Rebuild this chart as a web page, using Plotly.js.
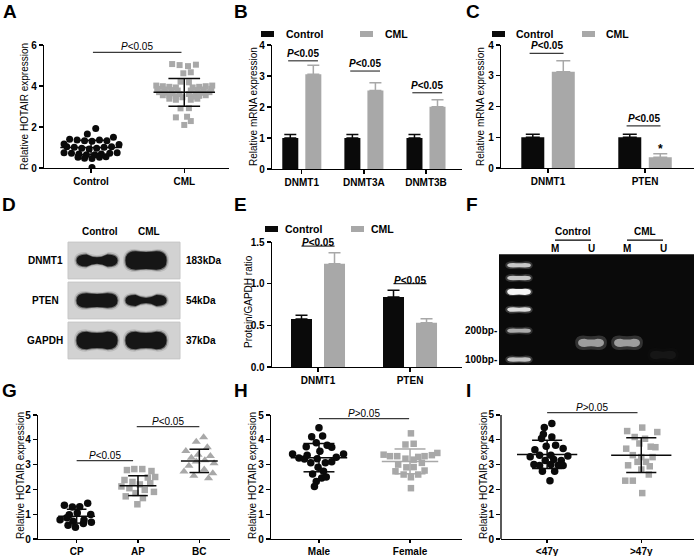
<!DOCTYPE html>
<html>
<head>
<meta charset="utf-8">
<script src="https://cdn.plot.ly/plotly-3.0.1.min.js"></script>
<style>
  html, body { margin: 0; padding: 0; background: #fff; }
  #fig { width: 696px; height: 556px; }
</style>
</head>
<body>
<div id="fig"></div>
<script>
// ---------- values ----------

// A: HOTAIR in Control vs CML
const aGroups = ['Control', 'CML'];
const aCtrlY = [1.93, 1.66, 1.50, 1.40, 1.37, 1.33, 1.30, 1.37, 1.33, 1.17, 1.15, 1.04, 1.01, 0.96, 0.93, 0.96,
  1.01, 1.04, 0.75, 0.72, 0.68, 0.65, 0.65, 0.68, 0.72, 0.75, 0.52, 0.47, 0.46, 0.52, 0.55, 0.03];
const aCtrlJit = [0.05, -0.04, 0.24, -0.23, -0.15, -0.07, 0.01, 0.09, 0.17, -0.29, 0.30, -0.26, -0.18, -0.10, -0.02, 0.06,
  0.14, 0.22, -0.29, -0.21, -0.13, -0.05, 0.04, 0.11, 0.20, 0.28, -0.14, -0.07, 0.01, 0.09, 0.16, 0.01];
const aCmlY = [5.07, 5.02, 4.97, 5.04, 4.62, 4.67, 4.21, 4.18,
  4.02, 3.99, 3.96, 3.93, 3.93, 3.96, 3.99, 4.02,
  3.86, 3.83, 3.80, 3.78, 3.78, 3.80, 3.83, 3.86,
  3.70, 3.67, 3.64, 3.61, 3.61, 3.64, 3.67, 3.70,
  3.55, 3.52, 3.48, 3.45, 3.48, 3.52, 3.55,
  3.38, 3.33, 3.33, 3.38,
  2.91, 2.92, 2.47, 2.50, 2.29, 2.10];
const aCmlJit = [-0.13, -0.05, 0.04, 0.125, -0.01, 0.07, -0.04, 0.05,
  -0.30, -0.23, -0.16, -0.09, 0.09, 0.16, 0.23, 0.30,
  -0.29, -0.21, -0.14, -0.07, 0.07, 0.14, 0.21, 0.29,
  -0.27, -0.20, -0.125, -0.05, 0.05, 0.125, 0.20, 0.27,
  -0.23, -0.16, -0.09, -0.02, 0.09, 0.16, 0.23,
  -0.16, -0.09, 0.07, 0.14,
  -0.04, 0.05, -0.09, 0.03, 0.07, 0.0];
const aMean = [1.0, 3.69];
const aSd = [0.35, 0.68];

// B: DNMT mRNA
const bGenes = ['DNMT1', 'DNMT3A', 'DNMT3B'];
const bCtrl = [1.0, 1.0, 1.0];
const bCtrlErr = [0.11, 0.11, 0.11];
const bCml = [3.06, 2.53, 2.01];
const bCmlErr = [0.29, 0.25, 0.22];
const bSigY = [3.49, 3.16, 2.46];

// C: DNMT1 / PTEN mRNA
const cGenes = ['DNMT1', 'PTEN'];
const cCtrl = [1.0, 1.0];
const cCtrlErr = [0.1, 0.1];
const cCml = [3.13, 0.35];
const cCmlErr = [0.36, 0.11];
const cSigY = [3.73, 1.37];

// D: western blot
const dLanes = ['Control', 'CML'];
const dProteins = ['DNMT1', 'PTEN', 'GAPDH'];
const dSizes = ['183kDa', '54kDa', '37kDa'];
const dBandEnd = [[0.30, 0.46], [0.36, 0.27], [0.44, 0.44]];   // band thickness at the ends
const dBandMid = [[0.16, 0.42], [0.32, 0.13], [0.38, 0.38]];   // band thickness at the middle

// E: protein / GAPDH
const eGenes = ['DNMT1', 'PTEN'];
const eCtrl = [0.575, 0.84];
const eCtrlErr = [0.045, 0.08];
const eCml = [1.24, 0.53];
const eCmlErr = [0.13, 0.05];
const eSigY = [1.45, 1.0];

// F: methylation-specific PCR gel
const fLanes = ['M', 'U', 'M', 'U'];
const fGroups = ['Control', 'CML'];
const fLadderRf = [0.10, 0.215, 0.34, 0.50, 0.69, 0.95];
const fLadderI = [0.72, 0.72, 0.95, 0.82, 0.6, 0.7];
const fMarkers = ['200bp-', '100bp-'];
const fMarkerRf = [0.69, 0.95];
const fSampleRf = [0.80, 0.80, 0.80, 0.91];
const fSampleI = [0.0, 0.8, 0.8, 0.06];

// G: HOTAIR by phase
const gGroups = ['CP', 'AP', 'BC'];
const gCpY = [1.36, 1.29, 1.30, 1.44, 1.05, 0.98, 0.78, 0.86, 0.77, 0.99, 0.68, 0.55, 0.47, 0.62, 0.72];
const gCpJit = [-0.2, -0.07, 0.05, 0.18, 0.01, -0.12, -0.27, -0.16, 0.12, 0.23, 0.24, -0.14, -0.02, 0.11, -0.06];
const gApY = [2.78, 2.82, 2.82, 2.74, 2.48, 2.50, 2.38, 2.30, 2.20, 2.25, 2.12, 2.05, 1.98, 1.90, 1.85, 1.72, 1.65, 1.40];
const gApJit = [-0.18, -0.06, 0.07, 0.22, 0.16, 0.28, -0.22, -0.09, 0.03, 0.20, -0.27, -0.14, 0.11, 0.26, -0.04, -0.20, 0.08, -0.01];
const gBcY = [4.10, 3.92, 3.70, 3.55, 3.40, 3.35, 3.28, 3.18, 3.12, 3.05, 2.95, 2.80, 2.72, 2.65, 2.55, 2.45];
const gBcJit = [0.07, -0.05, 0.13, -0.22, -0.02, 0.18, -0.13, 0.09, -0.05, 0.24, -0.17, 0.08, -0.25, 0.22, -0.09, 0.15];
const gMean = [0.92, 2.15, 3.15];
const gSd = [0.28, 0.40, 0.47];
const gSig = [[0, 0.92, 3.16], [0.98, 2.0, 4.53]];

// H: HOTAIR by gender
const hGroups = ['Male', 'Female'];
const hMaleY = [4.49, 4.12, 4.15, 3.72, 3.88, 3.78, 3.70, 3.43, 3.27, 3.23, 3.07, 3.24, 3.07, 3.11, 3.30, 3.43,
  2.89, 2.62, 2.73, 2.46, 2.50, 2.32, 2.12, 3.38, 3.54];
const hMaleJit = [0.0, -0.08, 0.04, -0.14, -0.03, 0.09, 0.14, -0.29, -0.22, -0.16, -0.09, -0.02, 0.07, 0.14, 0.19, 0.27,
  -0.01, -0.07, 0.05, 0.03, 0.08, -0.03, -0.05, -0.13, 0.01];
const hFemY = [4.26, 3.81, 3.84, 3.40, 3.34, 3.34, 3.24, 3.20, 3.31, 3.34, 3.38, 3.47, 3.00, 2.89, 2.90, 3.07,
  2.73, 2.60, 2.49, 2.60, 2.76, 2.05];
const hFemJit = [0.01, -0.05, 0.04, -0.29, -0.22, -0.14, -0.05, 0.04, 0.09, 0.16, 0.24, 0.30, -0.13, -0.04, 0.04, 0.13,
  -0.16, -0.07, 0.01, 0.09, 0.16, 0.01];
const hMean = [3.28, 3.13];
const hSd = [0.57, 0.50];

// I: HOTAIR by age
const iGroups = ['<47y', '>47y'];
const iYoungY = [4.65, 4.49, 4.22, 4.11, 4.05, 3.74, 3.78, 3.60, 3.65, 3.38, 3.38, 3.31, 3.34, 3.16, 3.20, 3.16,
  3.00, 2.96, 2.97, 2.96, 2.73, 2.73, 2.35, 3.00];
const iYoungJit = [0.05, -0.03, -0.04, 0.05, -0.06, -0.01, 0.09, -0.13, 0.17, -0.08, 0.04, -0.18, 0.22, -0.02, 0.07, 0.15,
  -0.14, -0.08, 0.12, 0.17, -0.05, 0.08, 0.03, 0.04];
const iOldY = [4.35, 4.49, 4.31, 4.11, 4.04, 3.64, 3.85, 3.72, 3.70, 3.38, 3.30, 3.30, 3.11, 3.11, 2.97, 2.93,
  2.80, 2.60, 2.35, 2.35, 1.85];
const iOldJit = [-0.15, 0.01, 0.17, -0.07, 0.04, -0.16, -0.02, 0.10, 0.15, -0.09, 0.0, 0.12, -0.04, 0.05, -0.14, 0.09,
  0.0, 0.08, -0.17, -0.09, 0.01];
const iMean = [3.41, 3.38];
const iSd = [0.57, 0.70];

// ---------- styling helpers ----------
const FONT = 'Liberation Sans, Arial, Helvetica, sans-serif';
const W = 696, H = 556;
const BLACK = '#0a0a0a';
const GRAY = '#a8a8a8';

const layout = {
  width: W, height: H,
  margin: { l: 0, r: 0, t: 0, b: 0 },
  paper_bgcolor: '#ffffff',
  plot_bgcolor: 'rgba(0,0,0,0)',
  showlegend: false,
  font: { family: FONT, color: '#000', size: 10 },
  shapes: [],
  annotations: []
};
const data = [];

function axisBase() {
  return {
    showline: true, linecolor: '#000', linewidth: 1.3,
    ticks: 'outside', ticklen: 4, tickwidth: 1.3, tickcolor: '#000',
    showgrid: false, zeroline: false, fixedrange: true,
    tickfont: { family: FONT, size: 10, color: '#000', weight: 'bold' }
  };
}

// box = [left, right, top, bottom] in pixels
function addAxes(n, box, xr, yr, xExtra, yExtra) {
  const xk = 'xaxis' + n, yk = 'yaxis' + n;
  layout[xk] = Object.assign(axisBase(), {
    domain: [box[0] / W, box[1] / W], range: xr, anchor: 'y' + n
  }, xExtra || {});
  layout[yk] = Object.assign(axisBase(), {
    domain: [1 - box[3] / H, 1 - box[2] / H], range: yr, anchor: 'x' + n
  }, yExtra || {});
  return { x: 'x' + n, y: 'y' + n };
}

function catTicks(labels, extra) {
  return Object.assign({ tickmode: 'array', tickvals: labels.map((_, i) => i), ticktext: labels }, extra || {});
}

function yTitle(text, xpx, ypx) {
  layout.annotations.push({
    text: text, xref: 'paper', yref: 'paper', x: xpx / W, y: 1 - ypx / H,
    textangle: -90, showarrow: false, xanchor: 'center', yanchor: 'middle',
    font: { family: FONT, size: 10, color: '#000' }
  });
}

function letter(t, xpx, ypx) {
  layout.annotations.push({
    text: '<b>' + t + '</b>', xref: 'paper', yref: 'paper', x: xpx / W, y: 1 - ypx / H,
    xanchor: 'left', yanchor: 'middle', showarrow: false,
    font: { family: FONT, size: 19, color: '#000' }
  });
}

function sig(ax, x0, x1, y, label, bold, shift) {
  layout.shapes.push({
    type: 'line', xref: ax.x, yref: ax.y, x0: x0, x1: x1, y0: y, y1: y,
    line: { color: '#3a3a3a', width: 1.2 }
  });
  layout.annotations.push({
    text: (bold ? '<b><i>P</i>' + label + '</b>' : '<i>P</i>' + label),
    xref: ax.x, yref: ax.y, x: (x0 + x1) / 2, y: y, yanchor: 'bottom', xanchor: 'center',
    showarrow: false, yshift: shift, font: { family: FONT, size: 10, color: '#000' }
  });
}

function legendBox(xpx, ypx, cmlX, gap) {
  const items = [['Control', BLACK, xpx], ['CML', GRAY, cmlX]];
  items.forEach(function (it) {
    layout.shapes.push({
      type: 'rect', xref: 'paper', yref: 'paper',
      x0: it[2] / W, x1: (it[2] + 13) / W, y0: 1 - (ypx + 3) / H, y1: 1 - (ypx - 3) / H,
      fillcolor: it[1], line: { width: 0 }
    });
    layout.annotations.push({
      text: '<b>' + it[0] + '</b>', xref: 'paper', yref: 'paper',
      x: (it[2] + gap) / W, y: 1 - ypx / H, xanchor: 'left', yanchor: 'middle',
      showarrow: false, font: { family: FONT, size: 10.5, color: '#000' }
    });
  });
}

function dots(ax, idx, ys, jit, symbol, color, size) {
  data.push({
    type: 'scatter', mode: 'markers', xaxis: ax.x, yaxis: ax.y,
    x: ys.map((_, i) => idx + jit[i]), y: ys,
    marker: { symbol: symbol, size: size, color: color, line: { width: 0 } },
    hoverinfo: 'skip'
  });
}

function meanSd(ax, idx, m, s, color, mw, sw) {
  data.push({
    type: 'scatter', mode: 'lines', xaxis: ax.x, yaxis: ax.y,
    x: [idx - mw, idx + mw, null, idx - sw, idx + sw, null, idx - sw, idx + sw, null, idx, idx],
    y: [m, m, null, m + s, m + s, null, m - s, m - s, null, m - s, m + s],
    line: { color: color, width: 1.5 }, hoverinfo: 'skip'
  });
}

function bars(ax, cats, vals, errs, color, off, wid, cap) {
  data.push({
    type: 'bar', xaxis: ax.x, yaxis: ax.y,
    x: cats.map((_, i) => i), y: vals, offset: off, width: wid,
    marker: { color: color, line: { width: 0 } },
    error_y: { type: 'data', symmetric: false, array: errs, arrayminus: errs.map(() => 0),
      color: color, thickness: 1.5, width: cap },
    hoverinfo: 'skip'
  });
}

// band path: blob with rounded ends and a waist in the middle
function bandPath(c, r, hw, tEnd, tMid) {
  const x0 = c - hw, x1 = c + hw, xl = x0 + hw * 0.5, xr = x1 - hw * 0.5;
  const te = r - tEnd / 2, be = r + tEnd / 2;
  const qt = 2 * (r - tMid / 2) - te, qb = 2 * (r + tMid / 2) - be;
  return 'M' + x0 + ',' + r +
    ' Q' + x0 + ',' + te + ' ' + xl + ',' + te +
    ' Q' + c + ',' + qt + ' ' + xr + ',' + te +
    ' Q' + x1 + ',' + te + ' ' + x1 + ',' + r +
    ' Q' + x1 + ',' + be + ' ' + xr + ',' + be +
    ' Q' + c + ',' + qb + ' ' + xl + ',' + be +
    ' Q' + x0 + ',' + be + ' ' + x0 + ',' + r + ' Z';
}

// ---------- A ----------
const axA = addAxes('', [44, 229, 45, 168], [-0.505, 1.48], [0, 6],
  catTicks(aGroups), { tickmode: 'array', tickvals: [0, 2, 4, 6] });
axA.x = 'x'; axA.y = 'y';
dots(axA, 0, aCtrlY, aCtrlJit, 'circle', BLACK, 7);
dots(axA, 1, aCmlY, aCmlJit, 'square', GRAY, 6);
meanSd(axA, 0, aMean[0], aSd[0], BLACK, 0.33, 0.17);
meanSd(axA, 1, aMean[1], aSd[1], BLACK, 0.33, 0.17);
sig(axA, 0.02, 0.97, 5.64, '&lt;0.05', false, -2);
yTitle('Relative HOTAIR expression', 24, 107);
letter('A', 1, 12);

// ---------- B ----------
const axB = addAxes(2, [272, 462, 45, 169], [-0.48, 2.58], [0, 4],
  catTicks(bGenes), { dtick: 1, tick0: 0 });
const bW = 16 / 62, bG = 7 / 62;
bars(axB, bGenes, bCtrl, bCtrlErr, BLACK, -bG / 2 - bW, bW, 6);
bars(axB, bGenes, bCml, bCmlErr, GRAY, bG / 2, bW, 6);
bSigY.forEach((y, i) => sig(axB, i - 0.22, i + 0.26, y, '&lt;0.05', true, 0));
legendBox(261, 34, 360, 23);
yTitle('Relative mRNA expression', 253, 107);
letter('B', 232, 12);

// ---------- C ----------
const axC = addAxes(3, [501, 694, 45, 168], [-0.485, 1.505], [0, 4],
  catTicks(cGenes), { dtick: 1, tick0: 0 });
const cW = 23 / 97, cG = 7.5 / 97;
bars(axC, cGenes, cCtrl, cCtrlErr, BLACK, -cG / 2 - cW, cW, 7);
bars(axC, cGenes, cCml, cCmlErr, GRAY, cG / 2, cW, 7);
cSigY.forEach((y, i) => sig(axC, i - 0.19, i + 0.16, y, '&lt;0.05', true, 0));
layout.annotations.push({
  text: '<b>*</b>', xref: 'x3', yref: 'y3', x: 1 + cG / 2 + cW / 2, y: cCml[1] + cCmlErr[1],
  yanchor: 'bottom', showarrow: false, yshift: -4, font: { family: FONT, size: 12, color: '#000' }
});
legendBox(492, 34, 582, 22);
yTitle('Relative mRNA expression', 480, 107);
letter('C', 464, 12);

// ---------- D ----------
// lanes are 49 px apart, rows 40 px apart; axis spans the whole panel so labels stay in range
const axD = addAxes(4, [0, 232, 222, 370], [-1.98, 2.755], [2.7375, -0.9625],
  { visible: false }, { visible: false });
dProteins.forEach(function (p, r) {
  layout.shapes.push({
    type: 'rect', xref: 'x4', yref: 'y4', x0: -0.592, x1: 1.694, y0: r - 0.46, y1: r + 0.46,
    fillcolor: '#d2d2d2', line: { color: '#c6c6c6', width: 1 }, layer: 'below'
  });
  dLanes.forEach(function (l, c) {
    layout.shapes.push({
      type: 'path', xref: 'x4', yref: 'y4',
      path: bandPath(c, r, 0.47, dBandEnd[r][c] + 0.12, dBandMid[r][c] + 0.1),
      fillcolor: '#6a6a6a', opacity: 0.22, line: { width: 0 }
    });
    layout.shapes.push({
      type: 'path', xref: 'x4', yref: 'y4',
      path: bandPath(c, r, 0.44, dBandEnd[r][c] + 0.05, dBandMid[r][c] + 0.04),
      fillcolor: '#2a2a2a', opacity: 0.5, line: { width: 0 }
    });
    layout.shapes.push({
      type: 'path', xref: 'x4', yref: 'y4',
      path: bandPath(c, r, 0.42, dBandEnd[r][c], dBandMid[r][c]),
      fillcolor: '#161616', line: { width: 0 }
    });
  });
  layout.annotations.push({
    text: '<b>' + p + '</b>', xref: 'x4', yref: 'y4', x: -1.06, y: r,
    xanchor: 'center', yanchor: 'middle', showarrow: false,
    font: { family: FONT, size: 10, color: '#000' }
  });
  layout.annotations.push({
    text: '<b>' + dSizes[r] + '</b>', xref: 'x4', yref: 'y4', x: 1.78, y: r,
    xanchor: 'left', yanchor: 'middle', showarrow: false,
    font: { family: FONT, size: 10, color: '#000' }
  });
});
dLanes.forEach(function (l, c) {
  layout.annotations.push({
    text: '<b>' + l + '</b>', xref: 'x4', yref: 'y4', x: c + 0.06, y: -0.72,
    xanchor: 'center', yanchor: 'middle', showarrow: false,
    font: { family: FONT, size: 10, color: '#000' }
  });
});
letter('D', 0, 205);

// ---------- E ----------
const axE = addAxes(5, [272, 462, 242, 367], [-0.5, 1.565], [0, 1.5],
  catTicks(eGenes), { dtick: 0.5, tick0: 0, tickformat: '.1f' });
const eW = 21 / 92, eG = 12 / 92;
bars(axE, eGenes, eCtrl, eCtrlErr, BLACK, -eG / 2 - eW, eW, 6);
bars(axE, eGenes, eCml, eCmlErr, GRAY, eG / 2, eW, 6);
eSigY.forEach((y, i) => sig(axE, i - 0.18, i + 0.18, y, '&lt;0.05', true, -4));
legendBox(265, 229, 351, 18);
yTitle('Protein/GAPDH ratio', 248, 302);
letter('E', 232, 205);

// ---------- F ----------
// lanes 36 px apart (ladder = lane 0); y is relative migration, 0 = gel top, 1 = gel bottom
const axF = addAxes(6, [499, 694, 222, 365], [-0.556, 4.86], [1, -0.29],
  { visible: false }, { visible: false });
layout.shapes.push({
  type: 'rect', xref: 'x6 domain', yref: 'y6', x0: 0, x1: 1, y0: 0, y1: 1,
  fillcolor: '#0a0a0a', line: { width: 0 }, layer: 'below'
});
fLadderRf.forEach(function (rf, i) {
  layout.shapes.push({
    type: 'path', xref: 'x6', yref: 'y6', path: bandPath(0, rf, 0.38, 0.07, 0.06),
    fillcolor: '#ffffff', opacity: fLadderI[i] * 0.25, line: { width: 0 }
  });
  layout.shapes.push({
    type: 'path', xref: 'x6', yref: 'y6', path: bandPath(0, rf, 0.33, i === 2 ? 0.055 : 0.04, i === 2 ? 0.05 : 0.035),
    fillcolor: '#ffffff', opacity: fLadderI[i], line: { width: 0 }
  });
});
fSampleRf.forEach(function (rf, i) {
  if (fSampleI[i] <= 0) return;
  layout.shapes.push({
    type: 'path', xref: 'x6', yref: 'y6', path: bandPath(i + 1, rf, 0.44, 0.13, 0.12),
    fillcolor: '#8a8a8a', opacity: fSampleI[i] * 0.4, line: { width: 0 }
  });
  layout.shapes.push({
    type: 'path', xref: 'x6', yref: 'y6', path: bandPath(i + 1, rf, 0.36, 0.075, 0.06),
    fillcolor: '#b8b8b8', opacity: fSampleI[i], line: { width: 0 }
  });
});
fLanes.forEach(function (l, i) {
  layout.annotations.push({
    text: '<b>' + l + '</b>', xref: 'x6', yref: 'y6', x: i + 1, y: -0.054,
    xanchor: 'center', yanchor: 'middle', showarrow: false,
    font: { family: FONT, size: 10, color: '#000' }
  });
});
fGroups.forEach(function (g, i) {
  const x0 = 1 + 2 * i;
  layout.shapes.push({
    type: 'line', xref: 'x6', yref: 'y6', x0: x0, x1: x0 + 1, y0: -0.126, y1: -0.126,
    line: { color: '#000', width: 1.2 }
  });
  layout.annotations.push({
    text: '<b>' + g + '</b>', xref: 'x6', yref: 'y6', x: x0 + 0.5, y: -0.2,
    xanchor: 'center', yanchor: 'middle', showarrow: false,
    font: { family: FONT, size: 10, color: '#000' }
  });
});
fMarkers.forEach(function (m, i) {
  layout.annotations.push({
    text: '<b>' + m + '</b>', xref: 'x6', yref: 'y6', x: -0.556, y: fMarkerRf[i],
    xanchor: 'right', yanchor: 'middle', showarrow: false,
    font: { family: FONT, size: 10, color: '#000' }
  });
});
letter('F', 464, 205);

// ---------- G ----------
const axG = addAxes(7, [38, 230, 415, 539], [-0.63, 2.5], [0, 5],
  catTicks(gGroups, { ticklen: 3 }), { dtick: 1, tick0: 0 });
dots(axG, 0, gCpY, gCpJit, 'circle', BLACK, 7.5);
dots(axG, 1, gApY, gApJit, 'square', GRAY, 6.5);
dots(axG, 2, gBcY, gBcJit, 'triangle-up', GRAY, 8);
gMean.forEach((m, i) => meanSd(axG, i, m, gSd[i], BLACK, 0.3, 0.16));
gSig.forEach(s => sig(axG, s[0], s[1], s[2], '&lt;0.05', false, -2));
yTitle('Relative HOTAIR expression', 20, 476);
letter('G', 0, 390);

// ---------- H ----------
const axH = addAxes(8, [271, 462, 415, 539], [-0.527, 1.571], [0, 5],
  catTicks(hGroups, { ticklen: 3 }), { dtick: 1, tick0: 0 });
dots(axH, 0, hMaleY, hMaleJit, 'circle', BLACK, 7.5);
dots(axH, 1, hFemY, hFemJit, 'square', GRAY, 6.5);
meanSd(axH, 0, hMean[0], hSd[0], BLACK, 0.31, 0.17);
meanSd(axH, 1, hMean[1], hSd[1], GRAY, 0.31, 0.17);
sig(axH, 0, 0.99, 4.85, '&gt;0.05', false, -2);
yTitle('Relative HOTAIR expression', 252, 476);
letter('H', 232, 390);

// ---------- I ----------
const axI = addAxes(9, [501, 694, 405, 539], [-0.49, 1.56], [0, 5.4],
  catTicks(iGroups, { ticklen: 3 }), { tickmode: 'array', tickvals: [0, 1, 2, 3, 4, 5], showline: false });
layout.shapes.push({
  type: 'line', xref: 'x9 domain', yref: 'y9', x0: 0, x1: 0, y0: 0, y1: 5,
  line: { color: '#000', width: 1.3 }
});
dots(axI, 0, iYoungY, iYoungJit, 'circle', BLACK, 7.5);
dots(axI, 1, iOldY, iOldJit, 'square', GRAY, 6.5);
meanSd(axI, 0, iMean[0], iSd[0], BLACK, 0.32, 0.16);
meanSd(axI, 1, iMean[1], iSd[1], BLACK, 0.32, 0.16);
sig(axI, 0, 0.96, 5.09, '&gt;0.05', false, -2);
yTitle('Relative HOTAIR expression', 483, 476);
letter('I', 464, 390);

Plotly.newPlot('fig', data, layout, { staticPlot: true, displayModeBar: false });
</script>
</body>
</html>
